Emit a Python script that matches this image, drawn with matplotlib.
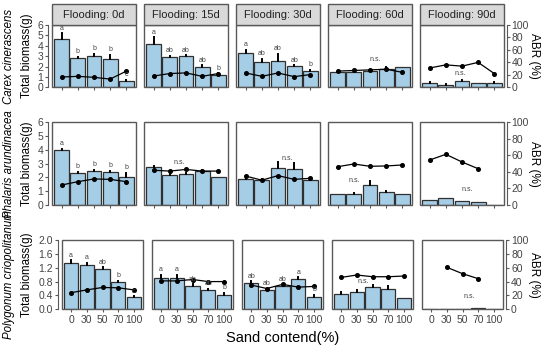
import matplotlib
matplotlib.use("Agg")
import matplotlib.pyplot as plt
from matplotlib.patches import Rectangle
import numpy as np

plt.rcParams['font.family'] = ['Liberation Sans', 'DejaVu Sans']

sand = ['0', '30', '50', '70', '100']
flood = ['Flooding: 0d', 'Flooding: 15d', 'Flooding: 30d', 'Flooding: 60d', 'Flooding: 90d']
species = ['Carex cinerascens', 'Phalaris arundinacea', 'Polygonum criopolitanum']

# total biomass (g), one list per flooding duration
carex_bio = [[4.65, 2.8, 3.0, 2.75, 0.65], [4.2, 2.9, 3.0, 2.0, 1.2], [3.35, 2.45, 2.57, 2.03, 1.55],
             [1.45, 1.45, 1.6, 1.8, 1.95], [0.45, 0.25, 0.6, 0.4, 0.45]]
carex_err = [[0.55, 0.15, 0.25, 0.4, 0.05], [0.6, 0.12, 0.1, 0.1, 0.15], [0.25, 0.3, 0.65, 0.1, 0.12],
             [0.05, 0.05, 0.05, 0.15, 0.05], [0.05, 0.03, 0.08, 0.05, 0.03]]
carex_abr = [[16.5, 17.6, 16, 13.2, 25.9], [18.1, 22.1, 23.1, 17.6, 22.1], [23, 17.6, 23, 17.1, 20.4],
             [26, 27, 28, 29, 24], [31, 36, 34, 40, 22]]
carex_let = [['a', 'b', 'b', 'b', 'c'], ['a', 'ab', 'ab', 'ab', 'b'], ['a', 'ab', 'ab', 'ab', 'b'], None, None]

phal_bio = [[4.0, 2.3, 2.5, 2.4, 2.05], [2.75, 2.15, 2.25, 2.45, 2.0], [1.89, 1.81, 2.66, 2.59, 1.81],
            [0.78, 0.8, 1.45, 0.94, 0.78], [0.34, 0.48, 0.26, 0.19, 0]]
phal_err = [[0.08, 0.1, 0.06, 0.06, 0.25], [0.05, 0.25, 0.1, 0.1, 0.05], [0.08, 0.05, 0.45, 0.43, 0.05],
            [0.05, 0.05, 0.3, 0.05, 0.03], [0.02, 0.03, 0.02, 0.02, 0]]
phal_abr = [[24.2, 28.2, 31.5, 31, 28.2], [42, 41, 43, 41, 41], [35, 30, 35.5, 31, 32.3],
            [46.3, 49.6, 46.8, 47.2, 48.4], [54.4, 61.3, 52, 43.9, np.nan]]
phal_let = [['a', 'b', 'b', 'b', 'b'], None, None, None, None]

poly_bio = [[1.33, 1.28, 1.15, 0.8, 0.35], [0.89, 0.89, 0.68, 0.55, 0.42], [0.75, 0.55, 0.66, 0.87, 0.35],
            [0.43, 0.51, 0.65, 0.6, 0.32], [0, 0.005, 0.01, 0.05, 0]]
poly_err = [[0.08, 0.07, 0.06, 0.03, 0.02], [0.1, 0.1, 0.04, 0.03, 0.05], [0.06, 0.04, 0.04, 0.05, 0.07],
            [0.06, 0.05, 0.04, 0.06, 0.02], [0, 0, 0, 0, 0]]
poly_abr = [[24, 28, 31.5, 31, 28], [41, 41, 43, 40, 40], [35, 30, 36, 32, 33],
            [46, 49.5, 47, 47, 48], [np.nan, 60.6, 51.4, 44.2, np.nan]]
poly_let = [['a', 'a', 'ab', 'b', 'c'], ['a', 'a', 'ab', 'ab', 'b'], ['ab', 'ab', 'ab', 'a', 'b'], None, None]

bio = [carex_bio, phal_bio, poly_bio]
err = [carex_err, phal_err, poly_err]
abr = [carex_abr, phal_abr, poly_abr]
letters = [carex_let, phal_let, poly_let]
ymax = [6, 6, 2.0]
yticks = [np.arange(0, 7, 1), np.arange(0, 7, 1), np.arange(0, 2.01, 0.4)]

# where the "n.s." notes sit: (row, col) -> (bar index, biomass)
ns_pos = {(0, 3): (2.3, 2.7), (0, 4): (1.9, 1.35), (1, 1): (1.6, 3.1), (1, 2): (2.6, 3.4),
          (1, 3): (1.0, 1.75), (1, 4): (2.3, 1.1), (2, 3): (1.4, 0.8), (2, 4): (2.4, 0.38)}

W, H = 550, 354
fig = plt.figure(figsize=(5.5, 3.54), dpi=100)
# panel left edges and widths per row (the bottom row is narrower)
row_left = [[52, 144, 236, 328, 420], [52, 144, 236, 328, 420], [61.7, 151.7, 241.7, 331.7, 421.7]]
row_pw = [84, 84, 81.7]
rows_y = [(25, 87.3), (122.3, 205), (240, 309.3)]
frame_c = '#595959'
bar_c = '#a6cde6'
txt_c = '#444444'
x = np.arange(5)

for r in range(3):
    top, bot = rows_y[r]
    for c in range(5):
        ax = fig.add_axes([row_left[r][c] / W, 1 - bot / H, row_pw[r] / W, (bot - top) / H])
        ax.bar(x, bio[r][c], width=0.92, color=bar_c, edgecolor='#303030', linewidth=0.9, zorder=2)
        for i in range(5):
            if err[r][c][i] > 0:
                ax.plot([i, i], [bio[r][c][i], bio[r][c][i] + err[r][c][i]], color='black', lw=1.4, zorder=3)
        ax.set_xlim(-0.6, 4.6)
        ax.set_ylim(0, ymax[r])
        for s in ax.spines.values():
            s.set_visible(False)
        ax.set_xticks(x)
        ax.tick_params(axis='x', length=2.5, width=0.8, color=frame_c, pad=1.5, labelsize=7.5, labelcolor=txt_c)
        if r == 2:
            ax.set_xticklabels(sand)
        else:
            ax.set_xticklabels([])
        if c == 0:
            ax.spines['left'].set_visible(True)
            ax.spines['left'].set_position(('outward', 2.7))
            ax.spines['left'].set_color(frame_c)
            ax.set_yticks(yticks[r])
            if r == 2:
                ax.set_yticklabels([f'{v:.1f}' for v in yticks[r]])
            ax.tick_params(axis='y', length=2.5, width=0.8, color=frame_c, pad=1, labelsize=7.5, labelcolor=txt_c)
        else:
            ax.set_yticks([])

        ax2 = ax.twinx()
        ax2.plot(x, abr[r][c], color='black', lw=0.9, marker='o', markersize=2.6, zorder=4)
        ax2.set_ylim(0, 100)
        # significance letters on top of the ABR line
        if letters[r][c] is not None:
            for i in range(5):
                ax2.text(i, bio[r][c][i] + err[r][c][i] + ymax[r] * 0.025, letters[r][c][i],
                         transform=ax.transData, ha='center', va='bottom', fontsize=5, color=txt_c, zorder=6)
        if (r, c) in ns_pos:
            px, py = ns_pos[(r, c)]
            ax2.text(px, py, 'n.s.', transform=ax.transData, ha='center', va='center', fontsize=5, color=txt_c)
        for s in ax2.spines.values():
            s.set_visible(False)
        if c == 4:
            ax2.spines['right'].set_visible(True)
            ax2.spines['right'].set_position(('outward', 2))
            ax2.spines['right'].set_color(frame_c)
            ax2.set_yticks(np.arange(0, 101, 20))
            ax2.tick_params(axis='y', length=2.5, width=0.8, color=frame_c, pad=1, labelsize=7.5, labelcolor=txt_c)
            ax2.set_ylabel('ABR (%)', rotation=270, fontsize=8.5, labelpad=8)
        else:
            ax2.set_yticks([])
        ax2.add_patch(Rectangle((0, 0), 1, 1, transform=ax2.transAxes, fill=False,
                                edgecolor=frame_c, lw=1, clip_on=False, zorder=5))
        if r == 0:
            sh = 21 / (bot - top)
            ax2.add_patch(Rectangle((0, 1), 1, sh, transform=ax2.transAxes, facecolor='#d9d9d9',
                                    edgecolor=frame_c, lw=1, clip_on=False, zorder=5))
            ax2.text(0.5, 1 + sh / 2, flood[c], transform=ax2.transAxes, ha='center', va='center',
                     fontsize=8, color='#222222', zorder=6)

    yc = 1 - (top + bot) / 2 / H
    fig.text(27 / W, yc, 'Total biomass(g)', rotation=90, ha='center', va='center', fontsize=8.3)
    fig.text(9 / W, yc, species[r], rotation=90, ha='center', va='center', fontsize=8.3, style='italic')

fig.text((61.7 + 503.4) / 2 / W, 1 - 338 / H, 'Sand contend(%)', ha='center', va='center', fontsize=10.5)

fig.savefig('out.png', dpi=100)
